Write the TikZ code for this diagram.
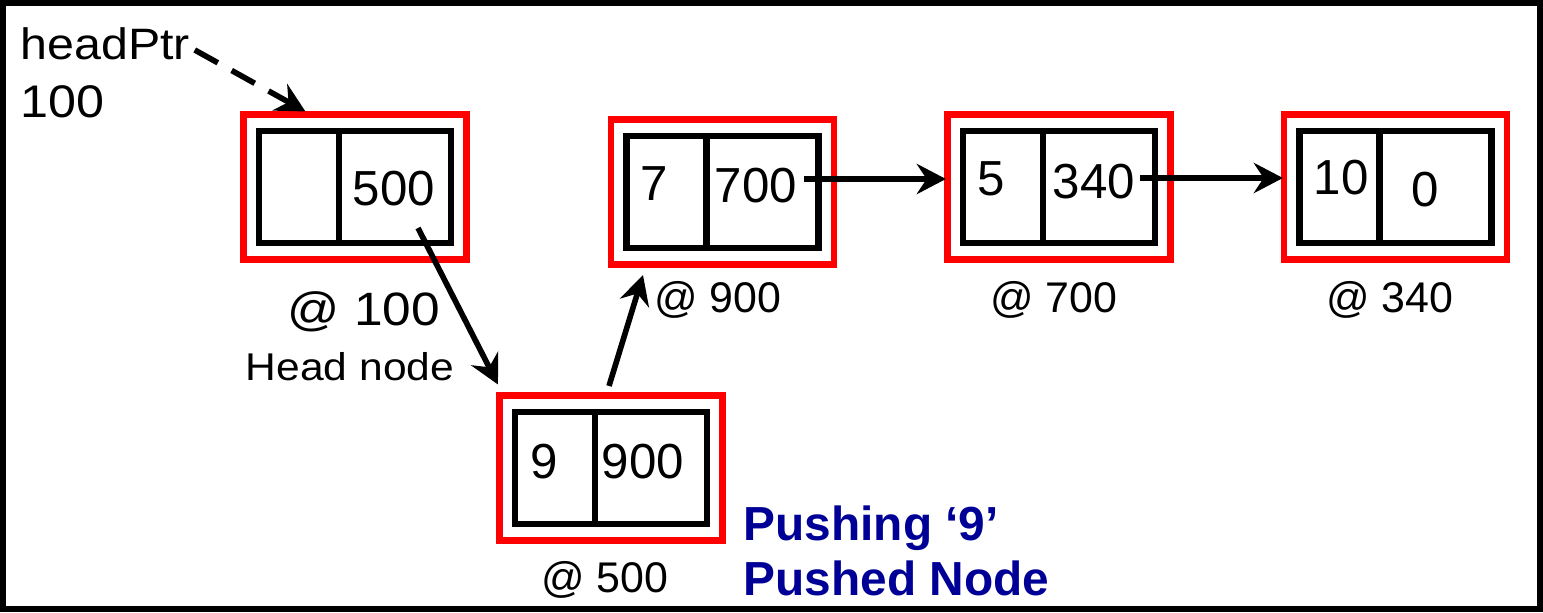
\documentclass[tikz,border=0pt]{standalone}
\usepackage{fontspec}
\setmainfont{Liberation Sans}
\newfontfamily\widefont[FakeStretch=1.1]{Liberation Sans}
\usetikzlibrary{calc,arrows.meta}
\definecolor{pushblue}{RGB}{0,0,150}
\newcommand{\listnode}[3]{%
  \node[redbox] (#1) at (#2,#3) {};
  \node[cellbox, minimum width=0.8cm] (#1-l) at ($(#1)+(-56,0)$) {};
  \node[cellbox, minimum width=1.12cm] (#1-r) at ($(#1)+(40,0)$) {};
}
\begin{document}
\begin{tikzpicture}[x=0.01cm,y=-0.01cm,
  redbox/.style={draw=red, line width=1.8pt, minimum width=2.23cm, minimum height=1.45cm, inner sep=0pt, outer sep=0pt},
  cellbox/.style={draw=black, line width=1.75pt, minimum height=1.12cm, inner sep=0pt, outer sep=0pt},
  val/.style={inner sep=0pt, font=\fontsize{14pt}{16pt}\selectfont},
  addr/.style={inner sep=0pt, anchor=base, font=\fontsize{12.2pt}{14pt}\selectfont},
  link/.style={line width=1.6pt, -{Stealth[length=8.3pt,width=8.6pt,inset=2.8pt]}},
  ptrlink/.style={line width=1.6pt, dash pattern=on 7.5pt off 4.5pt, -{Stealth[length=8.3pt,width=8.6pt,inset=2.8pt]}},
  blue text/.style={anchor=base west, inner sep=0pt, font=\bfseries\fontsize{13.6pt}{16pt}\selectfont, text=pushblue},
  ]
\useasboundingbox (0,0) rectangle (1543,612);
\draw[line width=1.8pt] (3,3) rectangle (1540,609);

% list nodes
\listnode{A}{355}{187}
\listnode{B}{611}{468}
\listnode{C}{722.5}{192}
\listnode{D}{1059}{187}
\listnode{E}{1395.5}{187}

% values
\node[val] (A-rt) at (394,189) {500};
\node[val] (B-lt) at (544.5,461.5) {9};
\node[val] (B-rt) at (643,461.5) {900};
\node[val] (C-lt) at (654,184) {7};
\node[val] (C-rt) at (756,186) {700};
\node[val] (D-lt) at (991.5,179) {5};
\node[val] (D-rt) at (1094,181.5) {340};
\node[val] (E-lt) at (1341,177.5) {10};
\node[val] (E-rt) at (1425,189.5) {0};

% address labels
\node[addr, font=\widefont\fontsize{13.3pt}{15pt}\selectfont] (A-lab) at (364,325) {@ 100};
\node[anchor=base, inner sep=0pt, font=\widefont\fontsize{11pt}{13pt}\selectfont] (A-note) at (350,380) {Head node};
\node[addr] (B-lab) at (605,592) {@ 500};
\node[addr] (C-lab) at (718,312) {@ 900};
\node[addr] (D-lab) at (1054,312) {@ 700};
\node[addr] (E-lab) at (1390,312) {@ 340};

% head pointer
\node[anchor=base west, inner sep=0pt, font=\widefont\fontsize{12.5pt}{15pt}\selectfont] (hp) at (20,59) {headPtr};
\node[anchor=base west, inner sep=0pt, font=\widefont\fontsize{13pt}{15pt}\selectfont] (hp100) at (20,117) {100};
\coordinate (hpEnd) at ($(hp.base east)+(4,-9)$);

% connectors
\draw[ptrlink] (hpEnd) -- ($(A.north west)+(62,-3)$);
\draw[link] ($(A-r.center)+(23,41)$) -- ($(B.north west)+(-1.5,-11)$);
\draw[link] ($(B.north)+(-2,-9.5)$) -- ($(C.south)+(-79.5,10.5)$);
\draw[link] ($(C-r.center)+(41.5,-13)$) -- ($(D.west)+(-1.5,-8)$);
\draw[link] ($(D-r.center)+(41,-9)$) -- ($(E.west)+(-1,-9)$);

% caption
\node[blue text] (push1) at (743,540) {Pushing ‘9’};
\node[blue text] (push2) at (743,595) {Pushed Node};
\end{tikzpicture}
\end{document}
